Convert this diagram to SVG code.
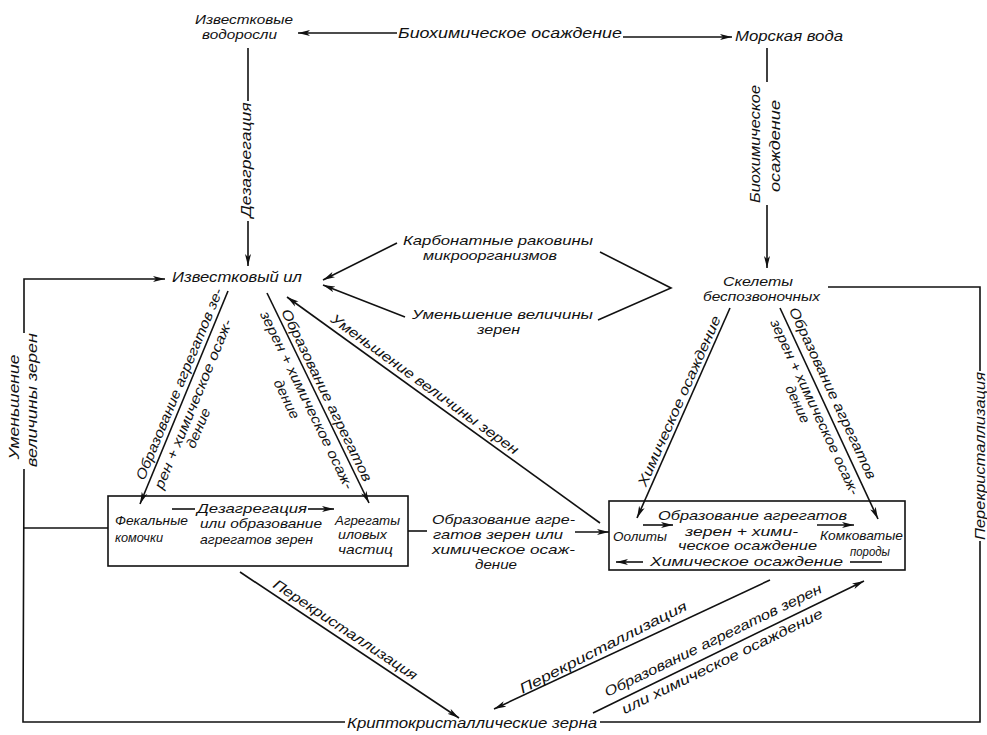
<svg xmlns="http://www.w3.org/2000/svg" width="987" height="735" viewBox="0 0 987 735">
<style>
text{font-family:"Liberation Sans","DejaVu Sans",sans-serif;font-style:italic;font-size:14px;fill:#111}
.c{text-anchor:middle;dominant-baseline:central}
.s{font-size:13px}
.t{font-size:13px}
.ln{stroke:#111;stroke-width:1.6;fill:none}
.a{marker-end:url(#ah)}
.box{fill:none;stroke:#111;stroke-width:1.6}
</style>
<defs>
<marker id="ah" markerUnits="userSpaceOnUse" markerWidth="13" markerHeight="7" refX="12" refY="3.5" orient="auto">
<path d="M0,0.5 L12,3.5 L0,6.5 L3,3.5 z" fill="#111"/>
</marker>
</defs>
<rect width="987" height="735" fill="#fff"/>

<g id="connectors">
<line class="ln a" x1="397" y1="33" x2="298" y2="33"/>
<line class="ln a" x1="623" y1="37" x2="732" y2="37"/>
<line class="ln" x1="248" y1="48" x2="248" y2="101"/>
<line class="ln a" x1="248" y1="221" x2="248" y2="266"/>
<line class="ln" x1="767" y1="48" x2="767" y2="82"/>
<line class="ln a" x1="767" y1="205" x2="767" y2="268"/>
<line class="ln a" x1="397" y1="243" x2="323" y2="280"/>
<line class="ln a" x1="405" y1="317" x2="323" y2="285"/>
<polyline class="ln" points="600,252 671,288 598,320"/>
<polyline class="ln" points="345,722 23,722 24,469"/>
<polyline class="ln a" points="24,333 24,279 165,279"/>
<line class="ln" x1="24" y1="528" x2="108" y2="528"/>
<polyline class="ln" points="828,287 980,287 980,371"/>
<polyline class="ln" points="980,541 980,722 600,722"/>
<line class="ln a" x1="228" y1="291" x2="140" y2="504"/>
<line class="ln a" x1="267" y1="293" x2="369" y2="503"/>
<line class="ln a" x1="600" y1="523" x2="287" y2="297"/>
<line class="ln" x1="408" y1="531" x2="427" y2="531"/>
<line class="ln a" x1="575" y1="532" x2="609" y2="532"/>
<line class="ln a" x1="730" y1="308" x2="637" y2="518"/>
<line class="ln a" x1="780" y1="308" x2="878" y2="519"/>
<line class="ln a" x1="240" y1="572" x2="459" y2="718"/>
<line class="ln a" x1="770" y1="580" x2="494" y2="709"/>
<line class="ln a" x1="593" y1="713" x2="864" y2="581"/>
<line class="ln" x1="172" y1="509" x2="195" y2="509"/>
<line class="ln a" x1="308" y1="509" x2="334" y2="509"/>
<line class="ln a" x1="643" y1="525" x2="673" y2="525"/>
<line class="ln a" x1="817" y1="525" x2="854" y2="525"/>
<line class="ln a" x1="643" y1="562" x2="616" y2="562"/>
<line class="ln" x1="850" y1="562" x2="882" y2="562"/>
</g>

<g id="connector-labels">
<text x="398" y="38" textLength="224" lengthAdjust="spacingAndGlyphs" style="font-size:15px">Биохимическое осаждение</text>
<text class="c" transform="translate(246,160) rotate(-90)" textLength="115" lengthAdjust="spacingAndGlyphs">Дезагрегация</text>
<text class="c" transform="translate(755,144) rotate(-90)" textLength="118" lengthAdjust="spacingAndGlyphs">Биохимическое</text>
<text class="c" transform="translate(775,146) rotate(-90)" textLength="92" lengthAdjust="spacingAndGlyphs">осаждение</text>
<text class="t" x="403" y="245" textLength="190" lengthAdjust="spacingAndGlyphs">Карбонатные раковины</text>
<text class="t" x="423" y="260" textLength="134" lengthAdjust="spacingAndGlyphs">микроорганизмов</text>
<text class="t" x="412" y="319" textLength="181" lengthAdjust="spacingAndGlyphs">Уменьшение величины</text>
<text class="t" x="477" y="334" textLength="43" lengthAdjust="spacingAndGlyphs">зерен</text>
<text class="c" transform="translate(14,407) rotate(-90)" textLength="105" lengthAdjust="spacingAndGlyphs">Уменьшение</text>
<text class="c" transform="translate(32,400) rotate(-90)" textLength="134" lengthAdjust="spacingAndGlyphs">величины зерен</text>
<text class="c" transform="translate(980,456) rotate(-90)" textLength="168" lengthAdjust="spacingAndGlyphs">Перекристаллизация</text>
<text class="c" transform="translate(179,384) rotate(-67.5)" textLength="206" lengthAdjust="spacingAndGlyphs">Образование агрегатов зе-</text>
<text class="c" transform="translate(193,404) rotate(-67.5)" textLength="182" lengthAdjust="spacingAndGlyphs">рен + химическое осаж-</text>
<text class="c" transform="translate(198,428) rotate(-67.5)" textLength="42" lengthAdjust="spacingAndGlyphs">дение</text>
<text class="c" transform="translate(327,395) rotate(64.1)" textLength="190" lengthAdjust="spacingAndGlyphs">Образование агрегатов</text>
<text class="c" transform="translate(307,400) rotate(64.1)" textLength="196" lengthAdjust="spacingAndGlyphs">зерен + химическое осаж-</text>
<text class="c" transform="translate(287,399) rotate(64.1)" textLength="42" lengthAdjust="spacingAndGlyphs">дение</text>
<text class="c" transform="translate(425,384) rotate(36)" textLength="228" lengthAdjust="spacingAndGlyphs">Уменьшение величины зерен</text>
<text class="t" x="432" y="524" textLength="143" lengthAdjust="spacingAndGlyphs">Образование агре-</text>
<text class="t" x="433" y="539" textLength="130" lengthAdjust="spacingAndGlyphs">гатов зерен или</text>
<text class="t" x="432" y="554" textLength="143" lengthAdjust="spacingAndGlyphs">химическое осаж-</text>
<text class="t" x="475" y="569" textLength="42" lengthAdjust="spacingAndGlyphs">дение</text>
<text class="c" transform="translate(679,401) rotate(-66)" textLength="185" lengthAdjust="spacingAndGlyphs">Химическое осаждение</text>
<text class="c" transform="translate(833,393) rotate(65)" textLength="188" lengthAdjust="spacingAndGlyphs">Образование агрегатов</text>
<text class="c" transform="translate(815,407) rotate(65)" textLength="192" lengthAdjust="spacingAndGlyphs">зерен + химическое осаж-</text>
<text class="c" transform="translate(798,404) rotate(65)" textLength="40" lengthAdjust="spacingAndGlyphs">дение</text>
<text class="c" transform="translate(345.5,629.5) rotate(33.6)" textLength="170" lengthAdjust="spacingAndGlyphs">Перекристаллизация</text>
<text class="c" transform="translate(603,647) rotate(-27)" textLength="186" lengthAdjust="spacingAndGlyphs">Перекристаллизация</text>
<text class="c" transform="translate(713,640) rotate(-26)" textLength="240" lengthAdjust="spacingAndGlyphs">Образование агрегатов зерен</text>
<text class="c" transform="translate(722,661) rotate(-26)" textLength="222" lengthAdjust="spacingAndGlyphs">или химическое осаждение</text>
<text class="s" x="197" y="513" textLength="110" lengthAdjust="spacingAndGlyphs">Дезагрегация</text>
<text class="s" x="200" y="528" textLength="122" lengthAdjust="spacingAndGlyphs">или образование</text>
<text class="s" x="200" y="544" textLength="113" lengthAdjust="spacingAndGlyphs">агрегатов зерен</text>
<text class="s" x="658" y="520" textLength="189" lengthAdjust="spacingAndGlyphs">Образование агрегатов</text>
<text class="s" x="685" y="536" textLength="113" lengthAdjust="spacingAndGlyphs">зерен + хими-</text>
<text class="s" x="678" y="550" textLength="139" lengthAdjust="spacingAndGlyphs">ческое осаждение</text>
<text class="s" x="650" y="566" textLength="193" lengthAdjust="spacingAndGlyphs">Химическое осаждение</text>
</g>

<g id="node-algae">
<text class="t" x="195" y="24" textLength="98" lengthAdjust="spacingAndGlyphs">Известковые</text>
<text class="t" x="202" y="39" textLength="75" lengthAdjust="spacingAndGlyphs">водоросли</text>
</g>
<g id="node-seawater">
<text x="735" y="41" textLength="108" lengthAdjust="spacingAndGlyphs" style="font-size:15px">Морская вода</text>
</g>
<g id="node-ooze">
<text x="172" y="282" textLength="130" lengthAdjust="spacingAndGlyphs" style="font-size:15px">Известковый ил</text>
</g>
<g id="node-skeletons">
<text class="t" x="723" y="286" textLength="70" lengthAdjust="spacingAndGlyphs">Скелеты</text>
<text class="t" x="703" y="301" textLength="117" lengthAdjust="spacingAndGlyphs">беспозвоночных</text>
</g>
<g id="node-left-box">
<rect class="box" x="108" y="496" width="300" height="70"/>
<text class="s" x="115" y="525" textLength="73" lengthAdjust="spacingAndGlyphs">Фекальные</text>
<text class="s" x="115" y="542" textLength="48" lengthAdjust="spacingAndGlyphs">комочки</text>
<text class="s" x="335" y="525" textLength="65" lengthAdjust="spacingAndGlyphs">Агрегаты</text>
<text class="s" x="338" y="539" textLength="49" lengthAdjust="spacingAndGlyphs">иловых</text>
<text class="s" x="338" y="554" textLength="55" lengthAdjust="spacingAndGlyphs">частиц</text>
</g>
<g id="node-right-box">
<rect class="box" x="609" y="501" width="296" height="69"/>
<text class="s" x="613" y="541" textLength="54" lengthAdjust="spacingAndGlyphs">Оолиты</text>
<text class="s" x="820" y="540" textLength="83" lengthAdjust="spacingAndGlyphs">Комковатые</text>
<text class="s" x="850" y="556" textLength="40" lengthAdjust="spacingAndGlyphs">породы</text>
</g>
<g id="node-crypto">
<text x="347" y="728" textLength="250" lengthAdjust="spacingAndGlyphs" style="font-size:15px">Криптокристаллические зерна</text>
</g>
</svg>
